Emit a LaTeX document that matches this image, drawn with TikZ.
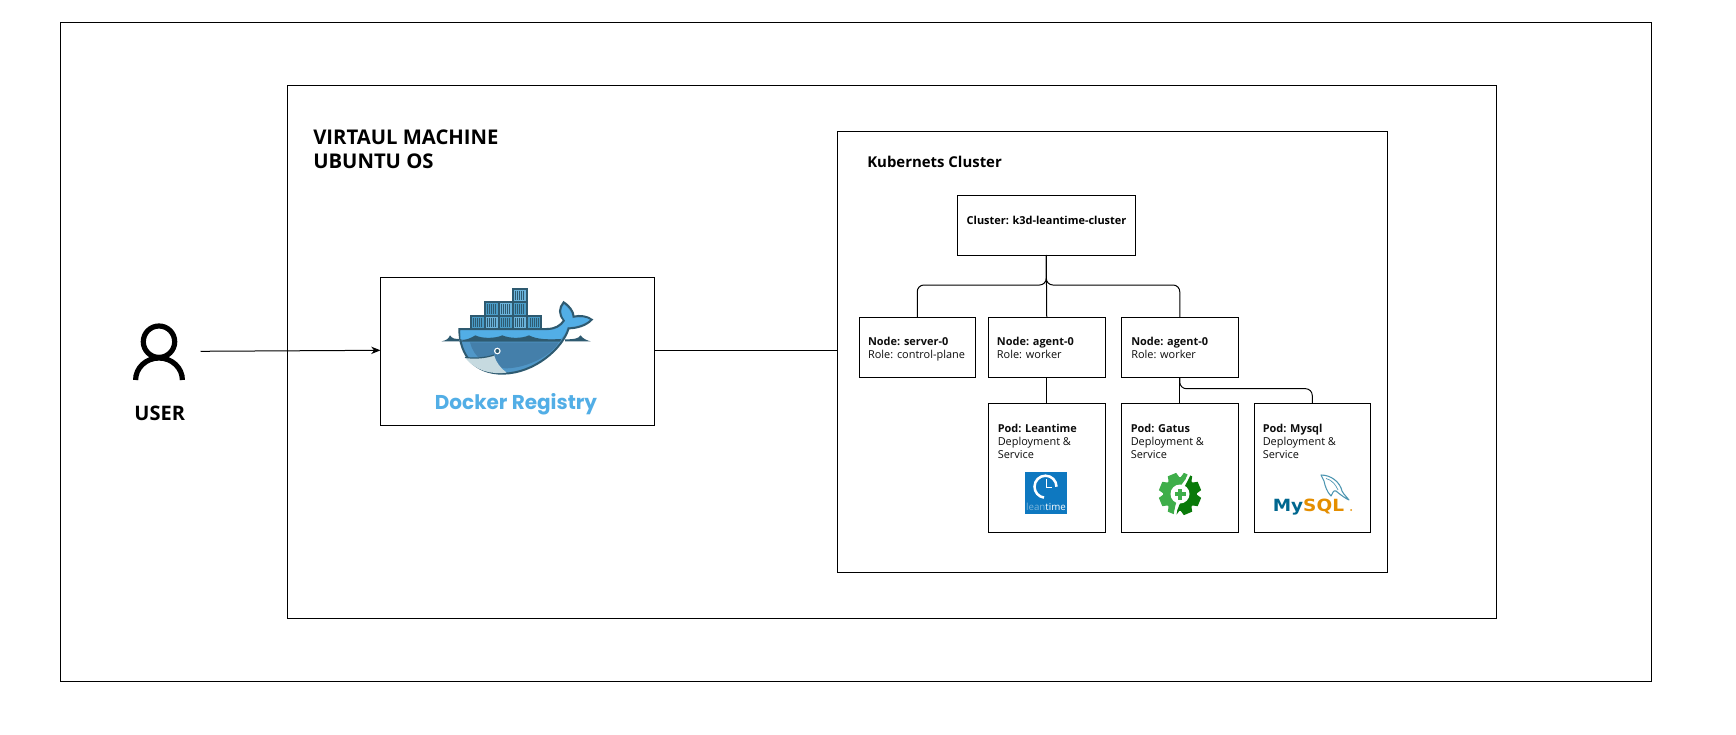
\documentclass[tikz,border=0pt]{standalone}
\usepackage{fontspec}
\setmainfont{Open Sans}
\newfontfamily\dockerfont{Poppins}
\newfontfamily\mysqlfont{DejaVu Sans}
\usetikzlibrary{arrows.meta}
\definecolor{dkframe}{HTML}{2E5A70}
\definecolor{dklight}{HTML}{52AEE6}
\definecolor{dkhull}{HTML}{5097C8}
\definecolor{dkhullin}{HTML}{447FAA}
\definecolor{dkjaw}{HTML}{C6DAE0}
\definecolor{ltblue}{HTML}{0E78C0}
\definecolor{gatusL}{HTML}{3FAE4A}
\definecolor{gatusD}{HTML}{0A7A0A}
\definecolor{myblue}{HTML}{00678F}
\definecolor{myorange}{HTML}{E48E00}
\tikzset{
  box/.style={draw=black,line width=0.75pt,fill=white,inner sep=0pt,outer sep=0pt,anchor=north west},
  conn/.style={draw=black,line width=0.75pt},
  small/.style={anchor=base west,inner sep=0pt,font=\fontsize{8.2}{9.75}\selectfont,text=black!95},
  head/.style={anchor=base west,inner sep=0pt,font=\fontsize{15.2}{18}\selectfont\bfseries,text=black},
  sub/.style={anchor=base west,inner sep=0pt,font=\fontsize{11.2}{13}\selectfont\bfseries,text=black},
}
\newcommand{\bx}[1]{\textbf{#1}}
\begin{document}
\begin{tikzpicture}[x=0.75pt,y=-0.75pt]
\useasboundingbox (0,0) rectangle (1736,735);
\fill[white] (0,0) rectangle (1736,735);

% frames
\node[box,minimum width=1590.5*0.75pt,minimum height=659*0.75pt] (outer) at (60.5,22.5) {};
\node[box,minimum width=1209*0.75pt,minimum height=532.5*0.75pt] (vm) at (287.5,85.5) {};
\node[box,minimum width=549.5*0.75pt,minimum height=440*0.75pt] (k8s) at (837.7,132) {};
\node[box,minimum width=274*0.75pt,minimum height=148*0.75pt] (reg) at (380.5,277.5) {};

% person
\coordinate (userout) at (200.5,351.3);
\draw[black,line width=3.9pt] (159,341.7) circle[radius=15.7];
\draw[black,line width=3.9pt] (135.6,380) arc[start angle=180,end angle=360,x radius=23.4,y radius=22];
\node[anchor=base,inner sep=0pt,font=\fontsize{15}{18}\selectfont\bfseries,text=black] (user) at (159.7,420.5) {USER};
\draw[conn,-{Stealth[length=7pt,width=5.5pt]}] (userout) -- (reg.west |- 0,350.3);

% text
\node[head] (vmt1) at (313,144) {VIRTAUL MACHINE};
\node[head] (vmt2) at (313,168) {UBUNTU OS};
\node[sub] (k8st) at (867,167) {Kubernets Cluster};

% boxes
\node[box,minimum width=177.5*0.75pt,minimum height=60*0.75pt] (cluster) at (957.5,195) {};
\node[box,minimum width=116.5*0.75pt,minimum height=60*0.75pt] (nodeA) at (859,317) {};
\node[box,minimum width=116.5*0.75pt,minimum height=60*0.75pt] (nodeB) at (988.5,317) {};
\node[box,minimum width=116.5*0.75pt,minimum height=60*0.75pt] (nodeC) at (1121.5,317) {};
\node[box,minimum width=116.5*0.75pt,minimum height=129*0.75pt] (podL) at (988.5,403) {};
\node[box,minimum width=116.5*0.75pt,minimum height=129*0.75pt] (podG) at (1121.5,403) {};
\node[box,minimum width=116.5*0.75pt,minimum height=129*0.75pt] (podM) at (1254,403) {};

\node[anchor=base,inner sep=0pt,font=\fontsize{8.2}{9.75}\selectfont\bfseries,text=black] (clustert) at (1046.5,224) {Cluster: k3d-leantime-cluster};
\node[small] (nAa) at (867.8,345) {\bx{Node: server-0}};
\node[small] (nAb) at (867.8,358) {Role: control-plane};
\node[small] (nBa) at (996.7,345) {\bx{Node: agent-0}};
\node[small] (nBb) at (996.7,358) {Role: worker};
\node[small] (nCa) at (1131,345) {\bx{Node: agent-0}};
\node[small] (nCb) at (1131,358) {Role: worker};
\node[small] (pLa) at (997.5,432) {\bx{Pod: Leantime}};
\node[small] (pLb) at (997.5,445) {Deployment \&};
\node[small] (pLc) at (997.5,458.5) {Service};
\node[small] (pGa) at (1130.5,432) {\bx{Pod: Gatus}};
\node[small] (pGb) at (1130.5,445) {Deployment \&};
\node[small] (pGc) at (1130.5,458.5) {Service};
\node[small] (pMa) at (1262.5,432) {\bx{Pod: Mysql}};
\node[small] (pMb) at (1262.5,445) {Deployment \&};
\node[small] (pMc) at (1262.5,458.5) {Service};

% connectors
\coordinate (bus) at (1047,285);
\coordinate (busB) at (1047,388.7);
\draw[conn] (reg.east |- 0,350.3) -- (k8s.west |- 0,350.3);
\draw[conn] (cluster.south) -- (nodeB.north);
\draw[conn,rounded corners=5pt] (cluster.south) |- (nodeC.north |- bus) -- (nodeC.north);
\draw[conn,rounded corners=5pt] (cluster.south) |- (nodeA.north |- bus) -- (nodeA.north);
\draw[conn] (nodeB.south) -- (podL.north);
\draw[conn] (nodeC.south) -- (podG.north);
\draw[conn,rounded corners=5pt] (nodeC.south) |- (podM.north |- busB) -- (podM.north);

% docker whale
\begin{scope}[shift={(440,285)},x=0.25pt,y=-0.25pt]
  \foreach \cx/\cy/\col in {92/92/4A9CC7,134/92/6BB4DC,177/92/4A9CC7,219/92/6BB4DC,262/92/4A9CC7,134/52/4A9CC7,177/52/6BB4DC,219/52/4A9CC7,219/11/6BB4DC}{
    \definecolor{cfill}{HTML}{\col}
    \fill[cfill] (\cx,\cy) rectangle +(42,41);
    \foreach \s in {8,14,20,26,32}{\draw[dkframe,line width=0.45pt] (\cx+\s,\cy+6) -- (\cx+\s,\cy+35);}
    \draw[dkframe,line width=1.6pt] (\cx,\cy) rectangle +(42,41);
  }
  % small waves and water line
  \fill[dkframe] (5,169) .. controls (18,166) and (26,162) .. (30,151) .. controls (36,161) and (45,162) .. (58,162) -- (58,169) -- cycle;
  \fill[dkframe] (375,163) .. controls (400,163) and (415,162) .. (422,151) .. controls (428,161) and (440,166) .. (452,169) -- (375,169) -- cycle;
  % body
  \path[fill=dkhull,draw=dkframe,line width=1.5pt] (58,132) -- (320,132)
    .. controls (345,132) and (362,122) .. (372,106)
    .. controls (355,88) and (357,68) .. (371,52)
    .. controls (390,64) and (400,80) .. (401,95)
    .. controls (420,90) and (443,94) .. (455,104)
    .. controls (440,121) and (410,130) .. (386,130)
    .. controls (368,190) and (285,264) .. (190,266)
    .. controls (105,267) and (58,212) .. (58,132) -- cycle;
  % darker inner part of the hull
  \fill[dkhullin] (90,172) -- (356,172) .. controls (335,210) and (265,248) .. (200,250)
    .. controls (140,250) and (100,215) .. (90,172) -- cycle;
  % light band and tail
  \fill[dklight] (61,136) -- (322,136) .. controls (348,136) and (366,125) .. (376,108)
    .. controls (361,88) and (362,72) .. (372,59)
    .. controls (386,70) and (396,82) .. (397,100)
    .. controls (419,95) and (438,97) .. (449,104)
    .. controls (435,117) and (408,126) .. (382,126)
    .. controls (378,142) and (372,152) .. (362,162)
    -- (61,162) -- cycle;
  \fill[dkframe] (58,168) .. controls (80,164) and (92,160) .. (106,151) .. controls (125,161) and (165,161) .. (187,151) .. controls (210,161) and (245,161) .. (267,151) .. controls (290,164) and (330,164) .. (364,162) -- (360,170) -- (58,170) -- cycle;
  % jaw
  \fill[dkjaw] (75,217) .. controls (105,222) and (140,218) .. (162,210) .. controls (168,232) and (182,250) .. (200,263)
    .. controls (155,269) and (105,258) .. (75,217) -- cycle;
  \draw[dkframe,line width=0.9pt] (75,217) .. controls (105,222) and (140,218) .. (162,210);
  % eye
  \fill[white] (172,198) circle[radius=10];
  \fill[dkframe] (172,198) circle[radius=6];
\end{scope}
\node[anchor=base,inner sep=0pt,font=\dockerfont\fontsize{15}{20}\selectfont\bfseries,text=dklight] (regt) at (516,409.5) {Docker Registry};

% leantime logo
\fill[ltblue] (1025,472) rectangle (1067,514);
\draw[white,line width=1.9pt] (1056.5,486.7) arc[start angle=0,end angle=-262,radius=11];
\draw[white,line width=0.6pt] (1046.5,479) -- (1046.5,487.3) -- (1052,487.3);
\node[anchor=base,inner sep=0pt,font=\fontsize{7.3}{8}\selectfont] (ltt) at (1046,510.7) {\textcolor{white!45!ltblue}{lean}\textcolor{white}{time}};

% gatus logo
\begin{scope}[shift={(1180,494)}]
  \def\gearshape{
    \fill (0,0) circle[radius=17];
    \foreach \a in {22.5,67.5,...,337.5}{
      \fill[rotate=\a] (-6,-15) -- (-4.5,-21) -- (4.5,-21) -- (6,-15) -- cycle;
    }
  }
  \begin{scope}
    \clip (-30,-30) -- (11,-30) -- (7,-18) .. controls (5,-12) and (-2,-8) .. (-2,0) .. controls (-2,8) and (-8,14) .. (-6,30) -- (-30,30) -- cycle;
    \begin{scope}[gatusL]\gearshape\end{scope}
  \end{scope}
  \begin{scope}
    \clip (30,-30) -- (14,-30) -- (10,-18) .. controls (8,-12) and (3,-8) .. (3,0) .. controls (3,8) and (-6,14) .. (-3,30) -- (30,30) -- cycle;
    \begin{scope}[gatusD]\gearshape\end{scope}
  \end{scope}
  \fill[white] (0,0) circle[radius=9.5];
  \fill[gatusL] (-5.5,-1.8) rectangle (5.5,1.8);
  \fill[gatusL] (-1.8,-5.5) rectangle (1.8,5.5);
\end{scope}

% mysql logo
\node[anchor=base west,inner sep=0pt,xscale=1.1,font=\mysqlfont\fontsize{12.6}{14}\selectfont\bfseries] (myt) at (1272.5,511.5) {\textcolor{myblue}{My}\textcolor{myorange}{SQL}};
\fill[myorange] (1351,510) circle[radius=1];
\draw[myblue!70!white,fill=white,line width=0.8pt,line join=round]
  (1321,475) .. controls (1331,475) and (1340,482) .. (1342,491) .. controls (1344,495) and (1347,497) .. (1349,500)
  .. controls (1345,498) and (1342,496) .. (1336,491) .. controls (1333,490) and (1333,493) .. (1331,496)
  .. controls (1327,492) and (1325,486) .. (1324,481) .. controls (1323,479) and (1322,477) .. (1321,475) -- cycle;
\draw[myblue!70!white,line width=0.5pt] (1326,478.5) .. controls (1332,480) and (1336,485) .. (1338,490);
\end{tikzpicture}
\end{document}
